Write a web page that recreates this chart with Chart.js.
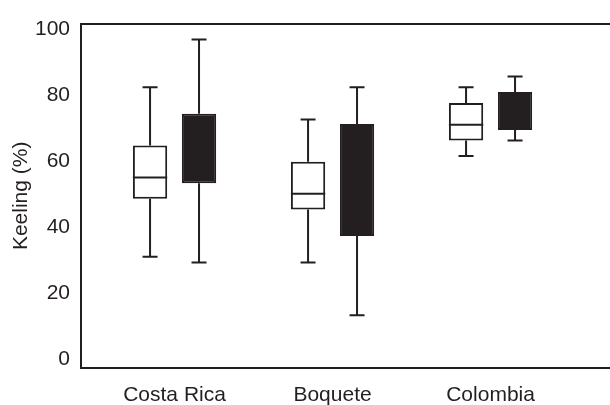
<!DOCTYPE html>
<html>
<head>
<meta charset="utf-8">
<script src="https://cdn.jsdelivr.net/npm/chart.js@4/dist/chart.umd.min.js"></script>
<style>
  html, body { margin: 0; padding: 0; background: #ffffff; }
  #wrap { width: 610px; height: 405px; }
</style>
</head>
<body>
<div id="wrap"><canvas id="c" width="610" height="405"></canvas></div>
<script>
// ---- data ----
const categories = ['Costa Rica', 'Boquete', 'Colombia'];
const yTicks = [0, 20, 40, 60, 80, 100];
const yTitle = 'Keeling (%)';

// white (open) boxes
const openMin    = [31.1, 29.4, 61.6];
const openQ1     = [48.7, 45.4, 66.3];
const openMedian = [55.1, 50.2, 71.1];
const openQ3     = [64.8, 59.9, 77.7];
const openMax    = [82.4, 72.7, 82.4];

// black (filled) boxes
const filledMin = [29.4, 13.4, 66.3];
const filledQ1  = [53.4, 37.4, 69.5];
const filledQ3  = [74.4, 71.3, 81.0];
const filledMax = [96.9, 82.4, 85.7];

const INK = '#231f20';
const FONT = "'Liberation Sans', Arial, Helvetica, sans-serif";

const series = [
  { label: 'open',   q1: openQ1,   q3: openQ3,   min: openMin,   max: openMax,   median: openMedian, fill: '#ffffff' },
  { label: 'filled', q1: filledQ1, q3: filledQ3, min: filledMin, max: filledMax, median: null,       fill: INK }
];

const datasets = series.map(s => ({
  label: s.label,
  data: categories.map((c, i) => ({ x: i, y: [s.q1[i], s.q3[i]] })),
  backgroundColor: s.fill,
  borderColor: INK,
  borderWidth: 2,
  borderSkipped: false,
  categoryPercentage: 0.62,
  barPercentage: 0.70,
  xAxisID: 'x',
  yAxisID: 'y'
}));

const whiskerPlugin = {
  id: 'whiskers',
  beforeDatasetsDraw(chart) {
    const ctx = chart.ctx;
    const ys = chart.scales.y;
    ctx.save();
    ctx.strokeStyle = INK;
    ctx.lineWidth = 2;
    ctx.lineCap = 'butt';
    series.forEach((s, d) => {
      const meta = chart.getDatasetMeta(d);
      meta.data.forEach((el, i) => {
        const x = el.x;
        const cap = 15;
        const pMax = ys.getPixelForValue(s.max[i]);
        const pQ3 = ys.getPixelForValue(s.q3[i]);
        const pQ1 = ys.getPixelForValue(s.q1[i]);
        const pMin = ys.getPixelForValue(s.min[i]);
        ctx.beginPath();
        ctx.moveTo(x, pQ3); ctx.lineTo(x, pMax);
        ctx.moveTo(x - cap / 2, pMax); ctx.lineTo(x + cap / 2, pMax);
        ctx.moveTo(x, pQ1); ctx.lineTo(x, pMin);
        ctx.moveTo(x - cap / 2, pMin); ctx.lineTo(x + cap / 2, pMin);
        ctx.stroke();
      });
    });
    ctx.restore();
  },
  afterDatasetsDraw(chart) {
    const ctx = chart.ctx;
    const ys = chart.scales.y;
    ctx.save();
    ctx.strokeStyle = INK;
    ctx.lineWidth = 2;
    series.forEach((s, d) => {
      if (!s.median) return;
      const meta = chart.getDatasetMeta(d);
      meta.data.forEach((el, i) => {
        const p = ys.getPixelForValue(s.median[i]);
        ctx.beginPath();
        ctx.moveTo(el.x - el.width / 2, p);
        ctx.lineTo(el.x + el.width / 2, p);
        ctx.stroke();
      });
    });
    ctx.restore();
  }
};

new Chart(document.getElementById('c'), {
  type: 'bar',
  data: { datasets },
  options: {
    responsive: false,
    animation: false,
    layout: { padding: 0 },
    plugins: { legend: { display: false }, tooltip: { enabled: false } },
    scales: {
      x: {
        type: 'linear',
        position: 'bottom',
        offset: false,
        min: -0.592,
        max: 2.756,
        grid: { display: false, drawTicks: false, offset: false },
        border: { display: true, color: INK, width: 2 },
        afterBuildTicks: (scale) => { scale.ticks = categories.map((c, i) => ({ value: i })); },
        afterFit: (scale) => { scale.height = 37; },
        ticks: {
          autoSkip: false,
          maxRotation: 0,
          padding: 15,
          color: INK,
          font: { family: FONT, size: 21 },
          callback: (v) => categories[v]
        }
      },
      x2: {
        type: 'linear',
        position: 'top',
        display: true,
        offset: false,
        grid: { display: false, drawTicks: false },
        border: { display: true, color: INK, width: 2 },
        ticks: { display: false },
        afterFit: (scale) => { scale.height = 12; }
      },
      y: {
        type: 'linear',
        position: 'left',
        min: -2.55,
        max: 101.7,
        grid: { display: false, drawTicks: false },
        border: { display: true, color: INK, width: 2 },
        afterBuildTicks: (scale) => { scale.ticks = yTicks.map(v => ({ value: v })); },
        afterFit: (scale) => { scale.width = 81; },
        ticks: {
          padding: 11,
          color: INK,
          font: { family: FONT, size: 21 }
        },
        title: {
          display: true,
          text: yTitle,
          color: INK,
          font: { family: FONT, size: 21 },
          padding: { top: 9, bottom: 0 }
        }
      }
    }
  },
  plugins: [whiskerPlugin]
});
</script>
</body>
</html>
